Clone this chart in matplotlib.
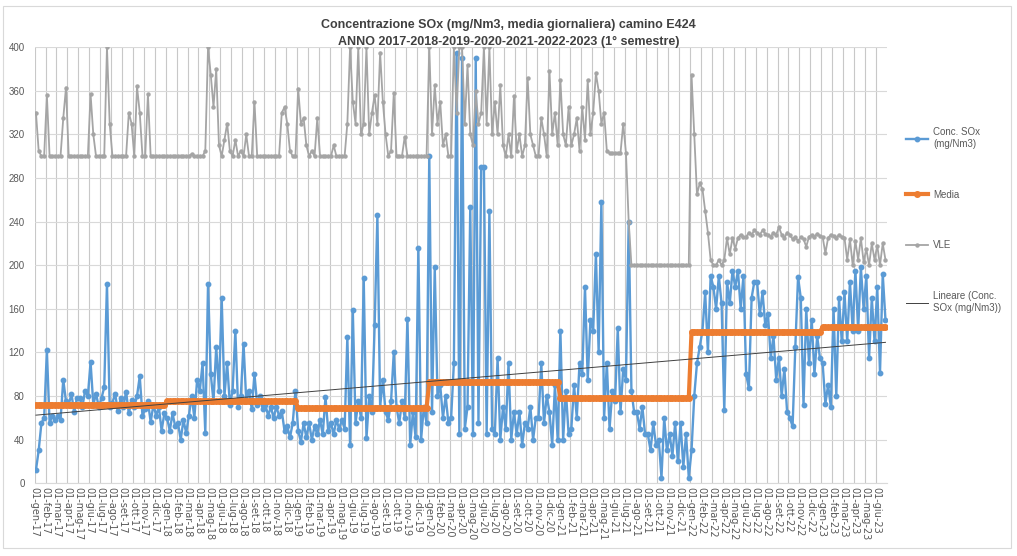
import numpy as np
import matplotlib
matplotlib.use("Agg")
import matplotlib.pyplot as plt
from matplotlib.patches import Rectangle

plt.rcParams["font.family"] = ["Liberation Sans", "DejaVu Sans"]

# Etichette asse x (primo del mese)
MESI = ["gen", "feb", "mar", "apr", "mag", "giu", "lug", "ago", "set", "ott", "nov", "dic"]
ANNI = [2017, 2018, 2019, 2020, 2021, 2022, 2023]
N_MESI = 78            # gen-17 ... giu-23
CAMPIONI_MESE = 4      # letture riportate per ogni mese

# media annua (mg/Nm3)
MEDIA = [72, 75, 69, 93, 78, 139, 143]

# Conc. SOx (mg/Nm3) - 4 letture per mese
conc_2017 = [12, 30, 55, 60,   122, 55, 62, 58,   62, 58, 95, 75,   72, 82, 65, 78,
             78, 70, 85, 80,   111, 72, 82, 70,   78, 88, 183, 70,  74, 82, 66, 78,
             70, 84, 64, 76,   70, 80, 98, 62,    68, 75, 56, 72,   62, 70, 48, 64]
conc_2018 = [60, 48, 64, 52,   55, 40, 58, 46,    62, 80, 60, 95,   85, 110, 46, 183,
             100, 75, 125, 85, 170, 80, 110, 72,  85, 140, 70, 80,  128, 75, 85, 68,
             100, 72, 80, 68,  72, 62, 70, 60,    70, 62, 66, 48,   52, 42, 55, 85]
conc_2019 = [48, 38, 55, 42,   55, 40, 52, 45,    58, 45, 79, 48,   55, 45, 58, 50,
             58, 50, 134, 35,  159, 55, 75, 60,   188, 41, 80, 65,  145, 246, 70, 95,
             65, 58, 75, 120,  70, 55, 75, 60,    151, 35, 65, 42,  216, 40, 70, 55]
conc_2020 = [300, 65, 198, 80, 90, 60, 80, 55,    60, 110, 395, 45, 390, 50, 70, 253,
             45, 390, 55, 290, 290, 45, 250, 50,  45, 115, 40, 70,  50, 110, 40, 65,
             45, 65, 35, 55,   50, 70, 40, 60,    60, 110, 55, 80,  65, 35, 90, 40]
conc_2021 = [140, 40, 85, 45,  50, 90, 60, 110,   100, 180, 95, 150, 140, 210, 120, 258,
             60, 110, 50, 85,  75, 142, 65, 105,  95, 240, 85, 65,  65, 50, 70, 45,
             45, 30, 55, 35,   40, 5, 60, 30,     45, 25, 55, 20,   55, 15, 45, 5]
conc_2022 = [30, 80, 110, 125, 140, 175, 120, 190, 180, 160, 190, 165, 67, 185, 165, 195,
             180, 195, 160, 190, 100, 87, 170, 185, 185, 155, 175, 145, 155, 115, 135, 95,
             115, 80, 105, 65, 60, 52, 125, 189,  170, 72, 160, 110, 150, 100, 135, 115]
conc_2023 = [110, 73, 90, 70,  160, 80, 170, 130, 175, 130, 185, 140, 195, 140, 198, 160,
             190, 115, 170, 130, 180, 101, 192, 150]

# VLE (mg/Nm3) - 4 letture per mese
vle_2017 = [340, 305, 300, 300, 356, 300, 300, 300, 300, 300, 335, 363, 300, 300, 300, 300,
            300, 300, 300, 300, 357, 320, 300, 300, 300, 300, 400, 330, 300, 300, 300, 300,
            300, 300, 340, 330, 300, 364, 340, 300, 300, 357, 300, 300, 300, 300, 300, 300]
vle_2018 = [300, 300, 300, 300, 300, 300, 300, 300, 300, 302, 300, 300, 300, 300, 305, 400,
            375, 345, 380, 310, 300, 315, 330, 305, 300, 315, 300, 305, 300, 320, 300, 300,
            350, 300, 300, 300, 300, 300, 300, 300, 300, 300, 340, 345, 330, 305, 300, 300]
vle_2019 = [362, 330, 335, 310, 300, 305, 300, 335, 300, 300, 300, 300, 300, 310, 300, 300,
            300, 300, 330, 400, 350, 330, 400, 320, 330, 400, 320, 340, 356, 330, 395, 350,
            320, 300, 305, 358, 300, 300, 300, 318, 300, 300, 300, 300, 300, 300, 300, 300]
vle_2020 = [400, 320, 365, 330, 350, 310, 320, 300, 300, 400, 340, 400, 400, 330, 384, 320,
            310, 360, 330, 340, 400, 330, 400, 320, 350, 320, 365, 310, 300, 320, 300, 355,
            305, 320, 300, 310, 372, 320, 310, 300, 300, 335, 320, 300, 378, 320, 340, 310]
vle_2021 = [370, 320, 310, 345, 310, 320, 335, 305, 345, 315, 370, 320, 340, 376, 360, 330,
            340, 305, 303, 303, 303, 303, 303, 330, 303, 240, 200, 200, 200, 200, 200, 200,
            200, 200, 200, 200, 200, 200, 200, 200, 200, 200, 200, 200, 200, 200, 200, 200]
vle_2022 = [375, 320, 265, 275, 270, 250, 230, 205, 200, 200, 205, 200, 205, 225, 210, 225,
            215, 225, 228, 226, 226, 230, 228, 232, 230, 228, 232, 229, 228, 226, 230, 228,
            235, 228, 225, 230, 228, 224, 226, 222, 226, 224, 217, 226, 228, 226, 229, 227]
vle_2023 = [226, 211, 225, 228, 227, 225, 228, 226, 225, 205, 224, 200, 222, 205, 225, 203,
            215, 200, 220, 205, 218, 200, 220, 205]

conc = np.array(conc_2017 + conc_2018 + conc_2019 + conc_2020 + conc_2021 + conc_2022 + conc_2023, dtype=float)
vle = np.array(vle_2017 + vle_2018 + vle_2019 + vle_2020 + vle_2021 + vle_2022 + vle_2023, dtype=float)

n = len(conc)
x = (np.arange(n) + 0.5) / CAMPIONI_MESE   # posizione in mesi da gen-17
mesi_anno = [12] * 6 + [6]
media = np.repeat(MEDIA, [m * CAMPIONI_MESE for m in mesi_anno]).astype(float)

fig = plt.figure(figsize=(10.17, 5.56), dpi=100)
ax = fig.add_axes([0.034, 0.131, 0.838, 0.784])

ax.plot(x, conc, color="#5b9bd5", lw=1.7, marker="o", ms=3.2, label="Conc. SOx\n(mg/Nm3)", zorder=2)
ax.plot(x, media, color="#ed7d31", lw=3.0, marker="o", ms=4.0, label="Media", zorder=3)
ax.plot(x, vle, color="#a5a5a5", lw=1.3, marker="o", ms=2.2, label="VLE", zorder=4)

# linea di tendenza lineare sulla concentrazione
coef = np.polyfit(x, conc, 1)
ax.plot(x, np.polyval(coef, x), color="#404040", lw=0.7, label="Lineare (Conc.\nSOx (mg/Nm3))", zorder=5)

ax.set_xlim(0, N_MESI)
ax.set_ylim(0, 400)
ax.set_yticks(np.arange(0, 401, 40))
ax.set_xticks(np.arange(N_MESI))
ax.set_xticklabels([f"01-{MESI[i % 12]}-{str(ANNI[0] + i // 12)[2:]}" for i in range(N_MESI)],
                   family="DejaVu Sans")
plt.setp(ax.get_xticklabels(), rotation=-90, ha="center", va="top")
ax.tick_params(axis="x", length=0, labelsize=7, colors="#595959", pad=3)
ax.tick_params(axis="y", length=0, labelsize=7, colors="#595959", pad=7)

ax.grid(True, axis="y", color="#d9d9d9", lw=0.8)
ax.grid(True, axis="x", color="#c8c8c8", lw=0.8)
ax.set_axisbelow(True)
for s in ["left", "right", "top"]:
    ax.spines[s].set_visible(False)
ax.spines["bottom"].set_color("#d9d9d9")

fig.text(0.5, 0.955, "Concentrazione SOx (mg/Nm3, media giornaliera) camino E424",
         ha="center", va="center", fontsize=9, fontweight="bold", color="#404040")
fig.text(0.5, 0.924, "ANNO 2017-2018-2019-2020-2021-2022-2023 (1° semestre)",
         ha="center", va="center", fontsize=9, fontweight="bold", color="#404040")

fig.legend(loc="upper left", bbox_to_anchor=(0.886, 0.78), frameon=False, fontsize=7,
           labelspacing=4.2, handlelength=2.3, handletextpad=0.5, borderpad=0,
           labelcolor="#595959")

fig.patches.append(Rectangle((0.003, 0.015), 0.991, 0.975, transform=fig.transFigure,
                             fill=False, edgecolor="#d9d9d9", lw=0.8))

fig.savefig("out.png", dpi=100)
